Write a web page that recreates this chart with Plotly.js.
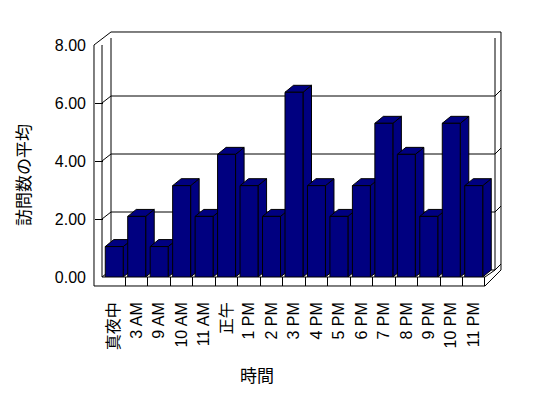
<!DOCTYPE html>
<html>
<head>
<meta charset="utf-8">
<script src="https://cdn.plot.ly/plotly-3.0.1.min.js"></script>
<style>html,body{margin:0;padding:0;background:#fff;}#chart{width:548px;height:398px;}</style>
</head>
<body>
<div id="chart"></div>
<script>
// ---- data ----
const categories = ['真夜中', '3 AM', '9 AM', '10 AM', '11 AM', '正午', '1 PM', '2 PM', '3 PM', '4 PM', '5 PM', '6 PM', '7 PM', '8 PM', '9 PM', '10 PM', '11 PM'];
const values = [1.05, 2.09, 1.05, 3.15, 2.09, 4.23, 3.15, 2.09, 6.37, 3.15, 2.09, 3.15, 5.30, 4.23, 2.09, 5.30, 3.15];
const yTickValues = [0, 2, 4, 6, 8];
const xTitle = '時間';
const yTitle = '訪問数の平均';

// ---- style constants ----
const W = 548, H = 398;
const NAVY = '#000080';
const FONT = 'Liberation Sans, "Noto Sans CJK JP", Arial, sans-serif';
const BAR_W = 0.8;          // bar width (category units)
const DEPTH_X = 0.38;       // 3D depth, category units
const DEPTH_Y = 0.24;       // 3D depth, value units
const px = x => x / W;
const py = y => 1 - y / H;
const pt = (x, y) => px(x).toFixed(5) + ',' + py(y).toFixed(5);
const LINE = {color: '#000', width: 1};

const shapes = [];
// walls and floor (decoration, paper coordinates)
shapes.push({type: 'path', xref: 'paper', yref: 'paper', layer: 'below', fillcolor: '#fff', line: LINE,
  path: 'M' + pt(94, 45) + ' L' + pt(111, 32) + ' L' + pt(501, 32) + ' L' + pt(501, 270) + ' L' + pt(485, 286) + ' L' + pt(94, 286) + ' Z'});
const segs = [[102, 45, 102, 277], [102, 277, 485, 277], [485, 277, 495, 270], [111, 38, 111, 270], [495, 38, 495, 270]];
segs.forEach(s => shapes.push({type: 'line', xref: 'paper', yref: 'paper', layer: 'below', line: LINE,
  x0: px(s[0]), y0: py(s[1]), x1: px(s[2]), y1: py(s[3])}));
// back-wall gridlines and wall diagonals at each tick value
yTickValues.forEach(v => {
  const base = {type: 'line', xref: 'paper', yref: 'y', ysizemode: 'pixel', yanchor: v, layer: 'below', line: LINE};
  shapes.push(Object.assign({}, base, {x0: px(111), x1: px(495), y0: 7, y1: 7}));
  shapes.push(Object.assign({}, base, {x0: px(102), x1: px(111), y0: 0, y1: 7}));
  shapes.push(Object.assign({}, base, {x0: px(495), x1: px(501), y0: 7, y1: 13}));
});
// 3D faces of each bar (side + top), from the data
values.forEach((v, i) => {
  const l = i - BAR_W / 2, r = i + BAR_W / 2;
  const face = {type: 'path', xref: 'x', yref: 'y', layer: 'below', fillcolor: NAVY, line: LINE};
  shapes.push(Object.assign({}, face, {path: `M${r},0 L${r},${v} L${r + DEPTH_X},${v + DEPTH_Y} L${r + DEPTH_X},${DEPTH_Y} Z`}));
  shapes.push(Object.assign({}, face, {path: `M${l},${v} L${r},${v} L${r + DEPTH_X},${v + DEPTH_Y} L${l + DEPTH_X},${v + DEPTH_Y} Z`}));
});

const trace = {
  type: 'bar', x: categories, y: values, width: BAR_W,
  marker: {color: NAVY, line: LINE}, hoverinfo: 'skip'
};

const layout = {
  width: W, height: H,
  margin: {l: 0, r: 0, t: 0, b: 0, pad: 0},
  paper_bgcolor: '#fff', plot_bgcolor: 'rgba(0,0,0,0)',
  showlegend: false,
  font: {family: FONT, size: 16, color: '#000'},
  xaxis: {
    type: 'category', domain: [px(103), px(496.2)], range: [-0.5, 17],
    anchor: 'free', position: py(286),
    tickangle: -90, ticks: 'inside', ticklen: 9, tickwidth: 1, tickcolor: '#000',
    tickson: 'boundaries', showline: false, showgrid: false, zeroline: false,
    ticklabelstandoff: 12, fixedrange: true,
    tickfont: {family: FONT, size: 16, color: '#000'}
  },
  yaxis: {
    domain: [py(277), py(45)], range: [0, 8],
    anchor: 'free', position: px(94),
    tickvals: yTickValues, tickformat: '.2f',
    ticks: 'inside', ticklen: 8, tickwidth: 1, tickcolor: '#000',
    showline: false, showgrid: false, zeroline: false,
    ticklabelstandoff: 8, fixedrange: true,
    tickfont: {family: FONT, size: 16, color: '#000'}
  },
  shapes: shapes,
  annotations: [
    {text: xTitle, xref: 'paper', yref: 'paper', x: px(257), y: py(376), xanchor: 'center', yanchor: 'middle',
     showarrow: false, font: {family: FONT, size: 17, color: '#000'}},
    {text: yTitle, xref: 'paper', yref: 'paper', x: px(25), y: py(175), xanchor: 'center', yanchor: 'middle',
     textangle: -90, showarrow: false, font: {family: FONT, size: 17, color: '#000'}}
  ]
};

Plotly.newPlot('chart', [trace], layout, {staticPlot: true, displayModeBar: false});
</script>
</body>
</html>
